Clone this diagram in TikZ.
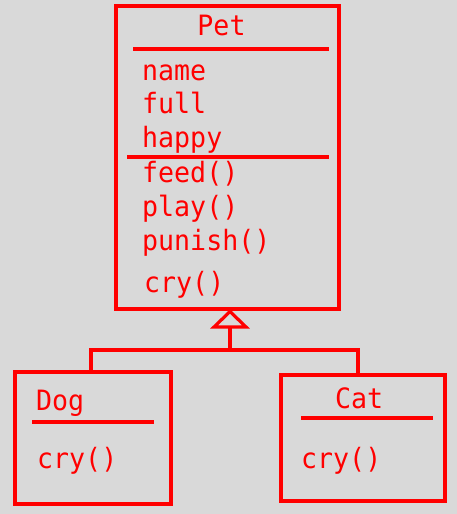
\documentclass[tikz,border=0pt]{standalone}
\usepackage{fontspec}
\newfontfamily\umlfont{DejaVu Sans Mono}[FakeStretch=0.95]
\usetikzlibrary{arrows.meta}
\definecolor{bg}{HTML}{D9D9D9}
\definecolor{umlred}{HTML}{FF0000}
\tikzset{
  umlbox/.style={draw=umlred, line width=3.2pt, inner sep=0pt, rectangle},
  umltext/.style={text=umlred, anchor=base west, inner sep=0pt, font=\umlfont\fontsize{28}{32}\selectfont},
  umlrule/.style={draw=umlred, line width=3.2pt},
  umllink/.style={draw=umlred, line width=3.2pt},
}
\begin{document}
\begin{tikzpicture}[x=1pt,y=-1pt]
\useasboundingbox (0,0) rectangle (457,514);
\fill[bg] (0,0) rectangle (457,514);
% boxes
\node[umlbox, minimum width=223pt, minimum height=303pt] (pet) at (227.5,157.5) {};
\node[umlbox, minimum width=156pt, minimum height=132pt] (dog) at (93,438) {};
\node[umlbox, minimum width=164pt, minimum height=126pt] (cat) at (363,438) {};
% Pet contents
\node[umltext, anchor=base] (petname) at (221.5,35) {Pet};
\draw[umlrule] (133,49) -- (329,49);
\node[umltext] (a1) at (142,80) {name};
\node[umltext] (a2) at (142,113) {full};
\node[umltext] (a3) at (142,147) {happy};
\draw[umlrule] (127,157) -- (329,157);
\node[umltext] (m1) at (142,182) {feed()};
\node[umltext] (m2) at (142,216) {play()};
\node[umltext] (m3) at (142,250) {punish()};
\node[umltext] (m4) at (144,292) {cry()};
% Dog contents
\node[umltext] (dogname) at (36,410) {Dog};
\draw[umlrule] (32,422) -- (154,422);
\node[umltext] (dogcry) at (37,468) {cry()};
% Cat contents
\node[umltext] (catname) at (335,408) {Cat};
\draw[umlrule] (301,418) -- (433,418);
\node[umltext] (catcry) at (301,468) {cry()};
% inheritance
\coordinate (j) at (230,350);
\coordinate (tb) at (230,327);
\draw[umllink] ([xshift=-2pt]dog.north) |- (j) -| ([xshift=-5pt]cat.north);
\draw[umllink] (j) -- (tb);
\draw[umllink, line join=miter, fill=bg] (214,327) -- (230,311.5) -- (246,327) -- cycle;
\end{tikzpicture}
\end{document}
